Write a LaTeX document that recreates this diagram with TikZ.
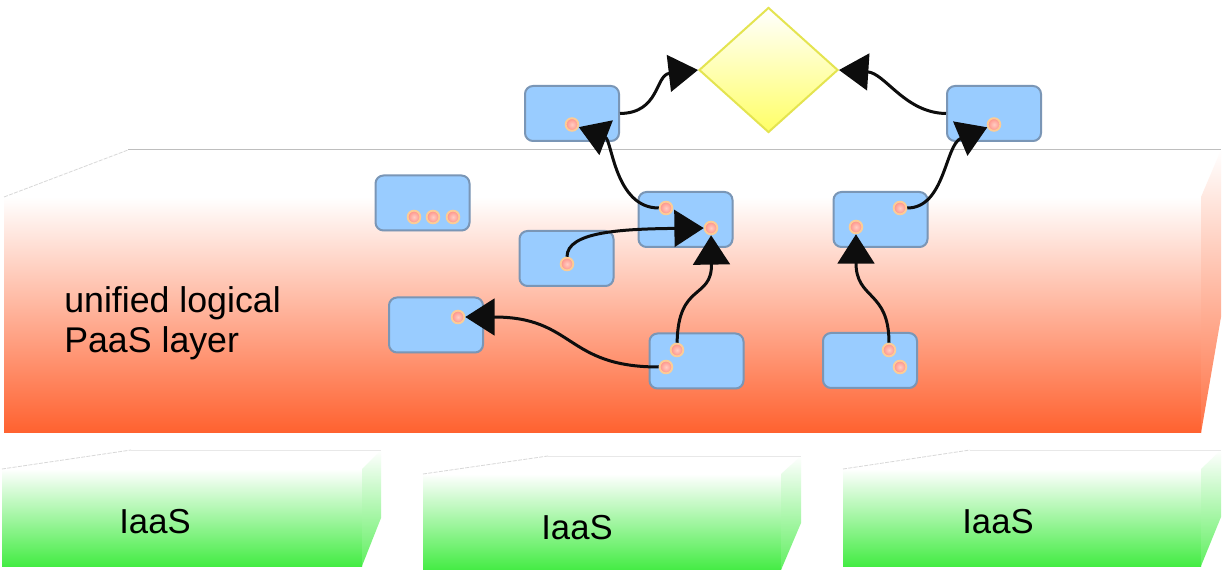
\documentclass[tikz,border=0pt]{standalone}
\usepackage{fontspec}
\setmainfont{Liberation Sans}
\usetikzlibrary{arrows.meta,shapes.geometric,shadows}
\definecolor{slabor}{RGB}{255,98,48}
\definecolor{iaasgr}{RGB}{68,236,68}
\definecolor{boxfill}{RGB}{153,204,255}
\definecolor{boxline}{RGB}{122,150,182}
\definecolor{portring}{RGB}{252,204,150}
\definecolor{portin}{RGB}{255,205,195}
\definecolor{portout}{RGB}{255,145,135}
\definecolor{diaedge}{RGB}{228,228,80}
\definecolor{diafill}{RGB}{255,255,102}
\definecolor{edgegray}{RGB}{190,190,190}
\begin{document}
\begin{tikzpicture}[x=0.75pt,y=-0.75pt,
  comp/.style={draw=boxline, line width=1.5pt, fill=boxfill, rounded corners=6pt,
    minimum width=70.5pt, minimum height=41.25pt, inner sep=0pt,
    drop shadow={shadow xshift=0.6pt,shadow yshift=-0.6pt,opacity=0.2}},
  port/.style={circle, draw=portring, line width=1.4pt, inner color=portin,
    outer color=portout, minimum size=9.5pt, inner sep=0pt},
  conn/.style={line width=2.25pt, black!95, -{Triangle[length=22pt,width=27.5pt]}},
  lbl/.style={font=\fontsize{26.8}{30}\selectfont, inner sep=0pt},
  ilbl/.style={font=\fontsize{26}{30}\selectfont, inner sep=0pt, anchor=base},
  topedge/.style={edgegray!60, line width=0.6pt, dash pattern=on 3pt off 1pt},
]
\useasboundingbox (0,0) rectangle (1225,570);
\fill[white] (0,0) rectangle (1225,570);

% ---------- PaaS slab ----------
\shade[top color=white, bottom color=slabor] (4,197) rectangle (1201,432);
\shade[top color=white, bottom color=slabor!90] (1201,197) -- (1221,150) -- (1221,317) -- (1201,433) -- cycle;
\draw[edgegray, line width=0.75pt] (128,150) -- (1221,150);
\draw[topedge] (4,197) -- (128,150);
\node[lbl, anchor=base west] (paas1) at (64,312.7) {unified logical};
\node[lbl, anchor=base west] (paas2) at (64,352.7) {PaaS layer};

% ---------- IaaS boxes ----------
\shade[top color=white, bottom color=iaasgr] (2,469) rectangle (362,566);
\shade[top color=white, bottom color=iaasgr!85] (362,469) -- (381,450) -- (381,518) -- (362,566) -- cycle;
\draw[topedge] (2,469) -- (131,450);
\draw[edgegray!35, line width=0.6pt] (131,450) -- (381,450);
\node[ilbl] (iaas1) at (155,533) {IaaS};

\shade[top color=white, bottom color=iaasgr] (423,474) rectangle (781,570);
\shade[top color=white, bottom color=iaasgr!85] (781,474) -- (801,456) -- (801,523) -- (781,570) -- cycle;
\draw[topedge] (423,474) -- (548,456);
\draw[edgegray!35, line width=0.6pt] (548,456) -- (801,456);
\node[ilbl] (iaas2) at (577,539) {IaaS};

\shade[top color=white, bottom color=iaasgr] (843,469) rectangle (1201,566);
\shade[top color=white, bottom color=iaasgr!85] (1201,469) -- (1221,450) -- (1221,517) -- (1201,566) -- cycle;
\draw[topedge] (843,469) -- (970,450);
\draw[edgegray!35, line width=0.6pt] (970,450) -- (1221,450);
\node[ilbl] (iaas3) at (998,533) {IaaS};

% ---------- decision diamond ----------
\node[diamond, draw=diaedge, line width=1.5pt, top color=white, bottom color=diafill,
  minimum width=104.25pt, minimum height=93.75pt, inner sep=0pt] (dia) at (768.5,70) {};

% ---------- components ----------
\node[comp] (A) at (572,113.5) {};
\node[comp] (B) at (994,113.5) {};
\node[comp] (D) at (422.5,203) {};
\node[comp] (E) at (685.5,219.5) {};
\node[comp] (F) at (566.5,258.5) {};
\node[comp] (G) at (436,325) {};
\node[comp] (H) at (696.5,361) {};
\node[comp] (I) at (880.5,219.5) {};
\node[comp] (J) at (870,360.5) {};

% ---------- ports ----------
\node[port] (pA) at (572,124.5) {};
\node[port] (pB) at (994,124.5) {};
\node[port] (pD1) at (414,217) {};
\node[port] (pD2) at (433,217) {};
\node[port] (pD3) at (453,217) {};
\node[port] (pE1) at (666,208) {};
\node[port] (pE2) at (711,228) {};
\node[port] (pF) at (567,264) {};
\node[port] (pG) at (458,317) {};
\node[port] (pH1) at (677,350) {};
\node[port] (pH2) at (666,367) {};
\node[port] (pI1) at (900,208) {};
\node[port] (pI2) at (856,227) {};
\node[port] (pJ1) at (889,350) {};
\node[port] (pJ2) at (900,367) {};

% ---------- connectors ----------
\draw[conn] (A.east) .. controls (660,113) and (655,75) .. (dia.west);
\draw[conn] (B.west) .. controls (905,113) and (885,73) .. (dia.east);
\draw[conn] (pE1) .. controls (615,208) and (612,140) .. (pA);
\draw[conn] (pF) .. controls (567,232) and (620,229) .. (pE2);
\draw[conn] (pH1) .. controls (678,282) and (712,300) .. (pE2);
\draw[conn] (pH2) .. controls (565,367) and (575,317) .. (pG);
\draw[conn] (pJ1) .. controls (889,290) and (856,300) .. (pI2);
\draw[conn] (pI1) .. controls (945,208) and (945,145) .. (pB);
\end{tikzpicture}
\end{document}
